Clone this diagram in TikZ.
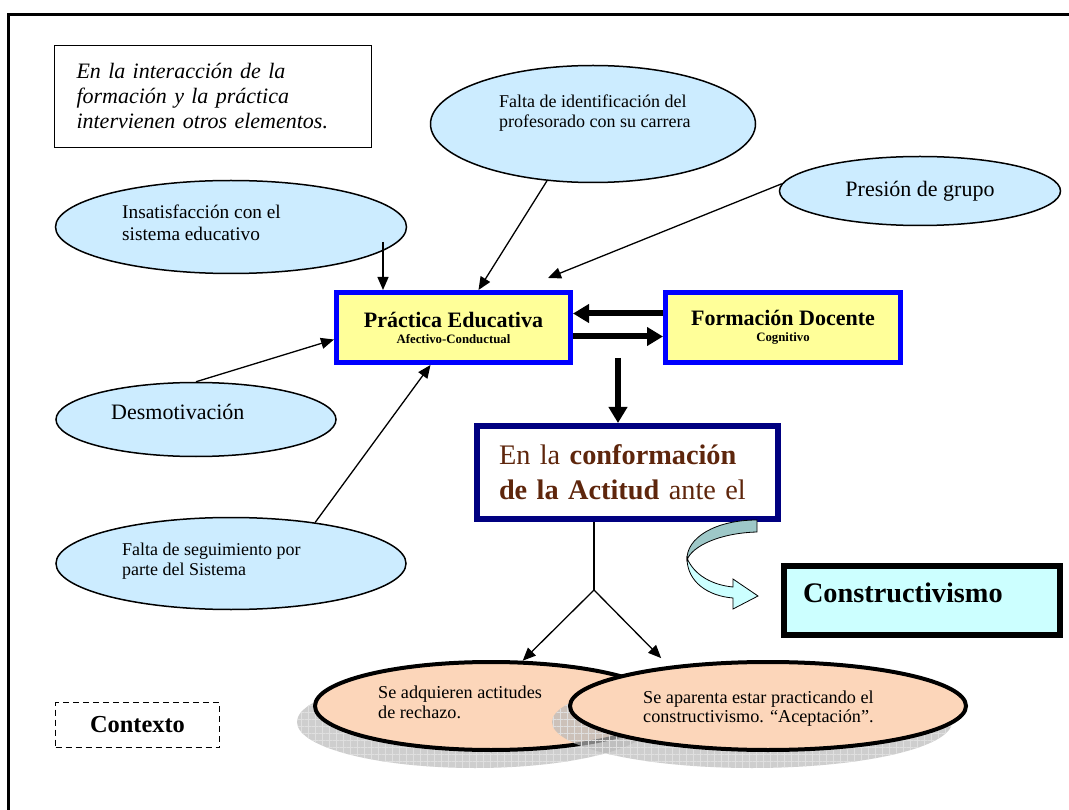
\documentclass[tikz,border=0pt]{standalone}
\usepackage{fontspec}
\setmainfont{Liberation Serif}
\usetikzlibrary{shapes.geometric,arrows.meta,calc,patterns.meta}

\definecolor{celeste}{RGB}{204,236,255}
\definecolor{amarillo}{RGB}{255,255,153}
\definecolor{durazno}{RGB}{252,214,186}
\definecolor{cian}{RGB}{204,255,255}
\definecolor{marino}{RGB}{0,0,128}
\definecolor{cafe}{RGB}{94,38,12}
\definecolor{verdeazul}{RGB}{158,200,200}

\begin{document}
\begin{tikzpicture}[x=1pt, y=-1pt,
  globo/.style={ellipse, draw, line width=1.5pt, fill=celeste, inner sep=0pt},
  rosa/.style={ellipse, draw, line width=4pt, fill=durazno, inner sep=0pt},
  caja/.style={rectangle, draw=blue, line width=5pt, fill=amarillo, align=center, inner sep=0pt, minimum width=234pt, minimum height=70pt, font=\bfseries\fontsize{22}{16}\selectfont},
  texto/.style={anchor=north west, inner sep=0pt, align=left},
  flecha/.style={-{Triangle[length=13pt,width=11pt]}, line width=1.3pt},
  gruesa/.style={-{Triangle[length=16pt,width=18pt]}, line width=6pt},
  sombra/.style={fill=gray!55, fill opacity=0.7,
    postaction={pattern={Lines[distance=7pt,angle=0,line width=0.5pt]}, pattern color=white!75!gray},
    postaction={pattern={Lines[distance=7pt,angle=90,line width=0.5pt]}, pattern color=white!75!gray}}]

\useasboundingbox (0,0) rectangle (1069,810);
\clip (0,0) rectangle (1069,810);

% Marco
\draw[line width=3pt] (1090,15) -- (8.5,15) -- (8.5,830);

% Nota
\node[rectangle, draw, line width=1.2pt, minimum width=317pt, minimum height=102pt, text width=273pt, inner xsep=22pt, align=left, font=\itshape\fontsize{22}{25}\selectfont] (nota) at (213,96.5)
{En la interacción de la\\formación y la práctica\\intervienen otros elementos.};

% Elementos que intervienen
\node[globo, minimum width=325pt, minimum height=117pt] (falta) at (593,124) {};
\node[texto, font=\fontsize{18}{20}\selectfont] (faltatxt) at (499,94.7)
{Falta de identificación del\\profesorado con su carrera};

\node[globo, minimum width=281pt, minimum height=69pt, font=\fontsize{22}{24}\selectfont] (pres) at (920,191) {Presión de grupo};

\node[globo, minimum width=351pt, minimum height=93pt] (ins) at (231,227) {};
\node[texto, font=\fontsize{19.3}{22}\selectfont] (instxt) at (122,204.8)
{Insatisfacción con el\\sistema educativo};

\node[globo, minimum width=280pt, minimum height=74pt] (desm) at (196,419.5) {};
\node[anchor=base west, inner sep=0pt, font=\fontsize{22}{24}\selectfont] (desmtxt) at (111,420) {Desmotivación};

\node[globo, minimum width=350pt, minimum height=92pt] (segui) at (231,563.5) {};
\node[texto, font=\fontsize{18}{20}\selectfont] (seguitxt) at (122,542.7)
{Falta de seguimiento por\\parte del Sistema};

% Practica y formacion
\node[caja] (prac) at (453.5,327.5) {Práctica Educativa\\{\fontsize{12.8}{16}\selectfont Afectivo-Conductual}};
\node[caja, minimum width=235pt] (form) at (783,327.5) {Formación Docente\\{\fontsize{12.8}{16}\selectfont Cognitivo}};

% Actitud
\node[rectangle, draw=marino, line width=6pt, fill=white, minimum width=301pt, minimum height=93pt, text width=257pt, inner xsep=22pt, align=left, text=cafe, font=\fontsize{28.3}{35}\selectfont] (conf) at (627.5,472.5)
{En la \textbf{conformación}\\\textbf{de la Actitud} ante el};

\node[rectangle, draw, line width=6pt, fill=cian, minimum width=276pt, minimum height=69pt, text width=238pt, inner xsep=19pt, align=left, text height=19.5pt, text depth=15pt, font=\bfseries\fontsize{28.3}{30}\selectfont] (cons) at (922,600.5) {Constructivismo};

% Cinta curva
\filldraw[fill=verdeazul, line width=0.8pt] (757,520) .. controls (715,520) and (686,538) .. (687,560) .. controls (692,546) and (720,533) .. (757,532) -- cycle;
\filldraw[fill=cian, line width=0.8pt] (687,558) .. controls (687,582) and (708,596) .. (733,598) -- (733,609) -- (758,596) -- (733,579) -- (733,587) .. controls (712,585) and (694,575) .. (687,558) -- cycle;

% Resultados
\fill[sombra] (475,722) ellipse [x radius=178pt, y radius=46pt];
\node[rosa, minimum width=352pt, minimum height=88pt] (rech) at (491,706) {};
\node[texto, font=\fontsize{18.2}{20}\selectfont] (rechtxt) at (378,685.6)
{Se adquieren actitudes\\de rechazo.};

\fill[sombra] (752,722) ellipse [x radius=200pt, y radius=46pt];
\node[rosa, minimum width=396pt, minimum height=88pt] (acep) at (768,706) {};
\node[texto, font=\fontsize{18.2}{19}\selectfont] (aceptxt) at (643,690.6)
{Se aparenta estar practicando el\\constructivismo. “Aceptación”.};

% Contexto
\node[rectangle, draw, dash pattern=on 6pt off 4pt, line width=1.5pt, minimum width=164pt, minimum height=45pt, font=\bfseries\fontsize{24.4}{26}\selectfont] (ctx) at (137.5,725) {Contexto};

% Flechas
\coordinate (insout) at ($(ins.center)+(152,15)$);
\draw[flecha] (insout) -- (insout |- prac.north);
\draw[flecha] (falta.231) -- ([xshift=25pt]prac.north);
\draw[flecha] (pres.177) -- ($(prac.north east)+(-25,-12)$);
\draw[flecha] (desm.north) -- ([yshift=-12pt]prac.west);
\draw[flecha] (segui.26) -- ([xshift=-23pt]prac.south);

\draw[gruesa] ([yshift=14pt]form.west) -- ([yshift=14pt]prac.east);
\draw[gruesa] ([yshift=-9pt]prac.east) -- ([yshift=-9pt]form.west);

\coordinate (baja) at (618,358);
\draw[gruesa] (baja) -- (baja |- conf.north);

\coordinate (rama) at (594,590);
\draw[line width=1.3pt] (conf.south -| rama) -- (rama);
\draw[flecha] (rama) -- (rech.55);
\draw[flecha] (rama) -- ($(acep.160)+(0,-9)$);

\end{tikzpicture}
\end{document}
